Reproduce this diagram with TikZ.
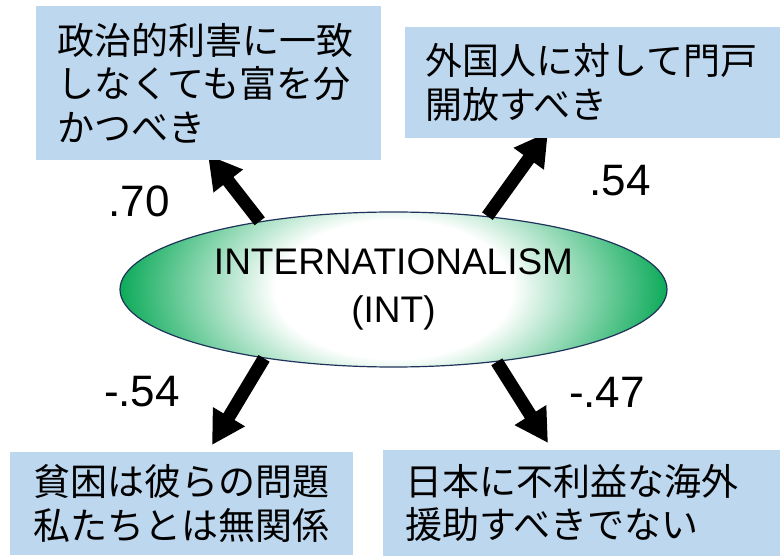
\documentclass[tikz,border=0pt]{standalone}
\usepackage{fontspec}
\setmainfont{Liberation Sans}
\newfontfamily\jpfont{Noto Sans CJK JP}
\usetikzlibrary{arrows.meta,shapes.geometric}
\definecolor{boxblue}{RGB}{189,215,238}
\definecolor{intgreen}{RGB}{0,166,81}
\definecolor{rimcol}{RGB}{30,50,90}
\pgfdeclareradialshading{intshade}{\pgfpoint{0bp}{0bp}}{color(0bp)=(white); color(10.5bp)=(white); color(25bp)=(intgreen); color(50bp)=(intgreen)}
\begin{document}
\begin{tikzpicture}[x=1pt,y=-1pt,
 stmt/.style={fill=boxblue, anchor=north west, inner ysep=0pt, align=left, font=\jpfont\fontsize{37}{43.5}\selectfont},
 coef/.style={inner sep=0pt, font=\fontsize{44}{50}\selectfont},
 loadarrow/.style={line width=13pt, -{Triangle[length=33pt,width=35pt]}}
]
\useasboundingbox (0,0) rectangle (780,556);
\begin{scope}
\clip (393.5,289.5) ellipse [x radius=273.5pt, y radius=77.5pt];
\shade[shading=intshade] (393.5,289.5) ellipse [x radius=282pt, y radius=165pt];
\end{scope}
\node[ellipse, draw=rimcol, line width=1.2pt, minimum width=547pt, minimum height=155pt, inner sep=0pt, align=center, font=\fontsize{37}{48}\selectfont] (int) at (393.5,289.5) {INTERNATIONALISM\\(INT)};
\coordinate (t1) at (208,155);
\coordinate (t2) at (548,132);
\coordinate (t3) at (212,445);
\coordinate (t4) at (548,443);
\draw[loadarrow] (int.153) -- (t1);
\draw[loadarrow] (int.38) -- (t2);
\draw[loadarrow] (int.208) -- (t3);
\draw[loadarrow] (int.325) -- (t4);
\node[stmt, text width=303pt, inner xsep=21pt, minimum height=154pt] (b1) at (36,6) {政治的利害に一致\\しなくても富を分\\かつべき};
\node[stmt, text width=335pt, inner xsep=20pt, minimum height=111pt] (b2) at (405,27) {外国人に対して門戸\\開放すべき};
\node[stmt, text width=297pt, inner xsep=23pt, minimum height=103pt] (b3) at (10,452) {貧困は彼らの問題\\私たちとは無関係};
\node[stmt, text width=353pt, inner xsep=22pt, minimum height=106pt] (b4) at (383,450) {日本に不利益な海外\\援助すべきでない};
\node[coef] (c1) at (139,201) {.70};
\node[coef] (c2) at (620,181) {.54};
\node[coef] (c3) at (142,392) {-.54};
\node[coef] (c4) at (607,392) {-.47};
\end{tikzpicture}
\end{document}
